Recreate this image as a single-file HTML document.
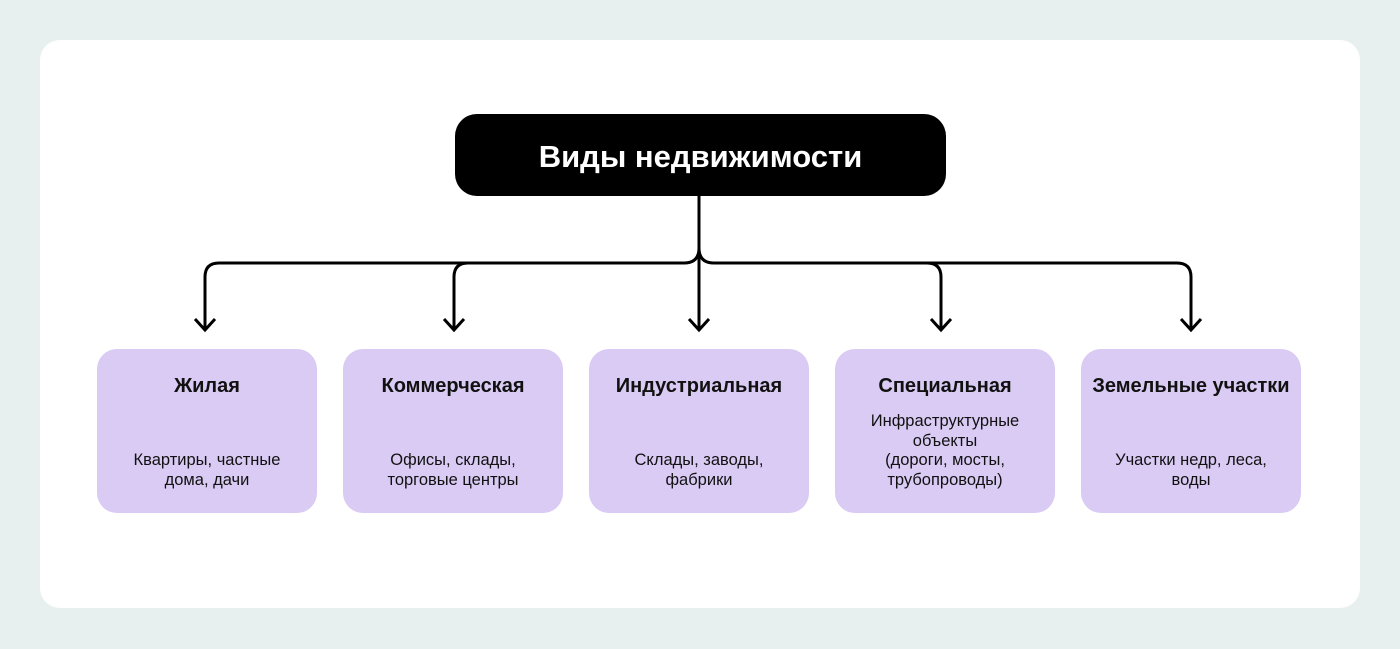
<!DOCTYPE html>
<html><head><meta charset="utf-8"><style>
body{margin:0;width:1400px;height:649px;background:#e8f0ef;position:relative;overflow:hidden;font-family:"Liberation Sans","Noto Sans CJK SC",sans-serif}
.card{position:absolute;left:40px;top:40px;width:1320px;height:568px;background:#fff;border-radius:20px}
.root{position:absolute;left:455px;top:114px;width:491px;height:82px;background:#000;border-radius:22px;color:#fff;font-size:31px;font-weight:bold;display:flex;align-items:center;justify-content:center;padding-top:4px;box-sizing:border-box}
.box{position:absolute;top:349px;width:220px;height:164px;background:#dacbf4;border-radius:20px;text-align:center;color:#111}
.box h3{margin:0;position:absolute;top:26px;left:0;right:0;font-size:20px;font-weight:bold;white-space:nowrap}
.box p{margin:0;position:absolute;left:0;right:0;font-size:16.5px;line-height:19.5px}
</style></head><body>
<div class="card"></div>
<svg width="1400" height="649" style="position:absolute;left:0;top:0" fill="none" stroke="#000" stroke-width="3">
<path d="M699 196 V330"/>
<path d="M699 248 Q699 263 684 263 H219 Q205 263 205 277 V330"/>
<path d="M468 263 Q454 263 454 277 V330"/>
<path d="M699 248 Q699 263 714 263 H1177 Q1191 263 1191 277 V330"/>
<path d="M927 263 Q941 263 941 277 V330"/>
<g stroke-width="3"><path d="M195 319 L205 330 L215 319"/><path d="M444 319 L454 330 L464 319"/><path d="M689 319 L699 330 L709 319"/><path d="M931 319 L941 330 L951 319"/><path d="M1181 319 L1191 330 L1201 319"/></g>
</svg>
<div class="root">Виды недвижимости</div>
<div class="box" style="left:97px"><h3>Жилая</h3><p style="top:102px">Квартиры, частные<br>дома, дачи</p></div>
<div class="box" style="left:343px"><h3>Коммерческая</h3><p style="top:102px">Офисы, склады,<br>торговые центры</p></div>
<div class="box" style="left:589px"><h3>Индустриальная</h3><p style="top:102px">Склады, заводы,<br>фабрики</p></div>
<div class="box" style="left:835px"><h3>Специальная</h3><p style="top:63px">Инфраструктурные<br>объекты<br>(дороги, мосты,<br>трубопроводы)</p></div>
<div class="box" style="left:1081px"><h3>Земельные участки</h3><p style="top:102px">Участки недр, леса,<br>воды</p></div>
</body></html>
